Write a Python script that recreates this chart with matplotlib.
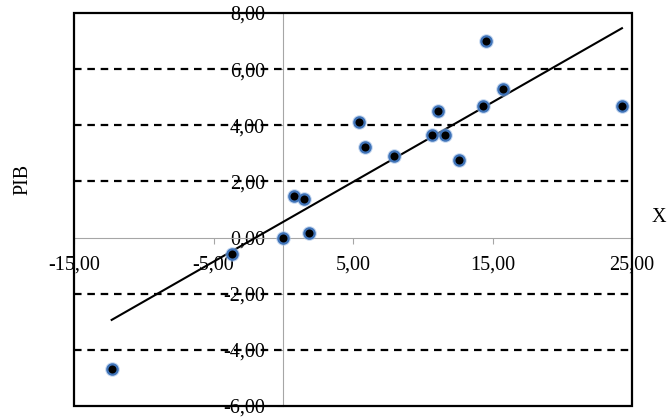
import numpy as np
import matplotlib.pyplot as plt
from matplotlib.patches import Rectangle
from matplotlib.ticker import FuncFormatter

plt.rcParams['font.family'] = ['Liberation Serif', 'DejaVu Serif']

# X vs PIB observations
x_vals = [-12.30, -3.70, 0.00, 1.88, 0.77, 1.51, 5.86, 5.43, 7.96,
          10.64, 11.59, 11.07, 12.60, 14.34, 14.51, 15.77, 24.28]
pib_vals = [-4.69, -0.58, 0.00, 0.16, 1.48, 1.38, 3.23, 4.11, 2.91,
            3.64, 3.64, 4.52, 2.76, 4.70, 7.01, 5.29, 4.69]

x_ticks = [-15, -5, 5, 15, 25]
y_ticks = [-6, -4, -2, 0, 2, 4, 6, 8]
grid_levels = [-4, -2, 2, 4, 6]

x = np.array(x_vals)
y = np.array(pib_vals)

# linear trend
slope, intercept = np.polyfit(x, y, 1)
xt = np.array([x.min(), x.max()])
yt = slope * xt + intercept

fig = plt.figure(figsize=(6.71, 4.19), dpi=100)
ax = fig.add_axes([74 / 671, 13 / 419, 558 / 671, 393 / 419])
ax.set_xlim(-15, 25)
ax.set_ylim(-6, 8)

# axes crossing at the origin
for side in ['top', 'right']:
    ax.spines[side].set_visible(False)
for side in ['left', 'bottom']:
    ax.spines[side].set_position(('data', 0))
    ax.spines[side].set_color('#a6a6a6')
    ax.spines[side].set_linewidth(0.8)

comma = FuncFormatter(lambda v, p: f"{v:.2f}".replace('.', ','))
ax.set_xticks(x_ticks)
ax.set_yticks(y_ticks)
ax.xaxis.set_major_formatter(comma)
ax.yaxis.set_major_formatter(comma)
ax.tick_params(axis='both', colors='#a6a6a6', labelcolor='black',
               labelsize=14.5, length=4, width=0.8, direction='out')
ax.tick_params(axis='x', pad=9)
ax.tick_params(axis='y', pad=9)

# dashed horizontal gridlines over the labels
for g in grid_levels:
    ax.axhline(g, color='black', lw=1.6, ls=(0, (3.4, 2.6)), zorder=3)

# outer frame
ax.add_patch(Rectangle((0, 0), 1, 1, transform=ax.transAxes, fill=False,
                       edgecolor='black', lw=1.6, zorder=6, clip_on=False))

ax.plot(xt, yt, color='black', lw=1.5, zorder=4)

ax.plot(x, y, 'o', ms=10.5, color='#9dbde6', alpha=0.6, mec='none', zorder=5)
ax.plot(x, y, 'o', ms=7.4, mfc='black', mec='#3f73b8', mew=1.6, zorder=5)

fig.text(23 / 671, 1 - 179 / 419, 'PIB', rotation=90, ha='center',
         va='center', fontsize=14.5)
fig.text(659 / 671, 1 - 217 / 419, 'X', ha='center', va='center',
         fontsize=14.5)

fig.savefig('out.png', dpi=100)
